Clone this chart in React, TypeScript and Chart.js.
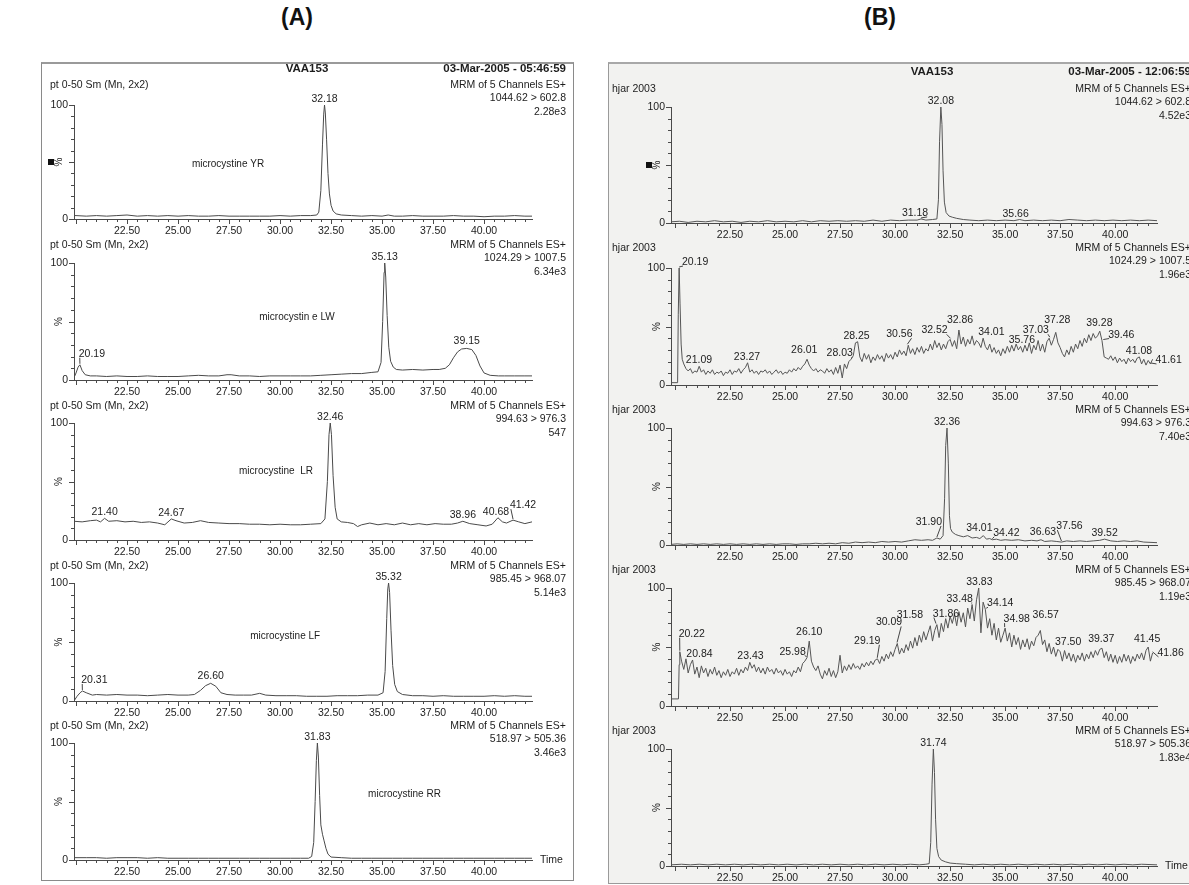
import React, { useEffect, useRef } from "react";
import { Chart, registerables } from "chart.js";

Chart.register(...registerables);

const FONT = "'Liberation Sans', Arial, Helvetica, sans-serif";
const AXIS = "#4a4a4a";
const TEXT = "#1c1c1c";

type Pt = [number, number];
// [retention time, label dx (px), label lift (px), leader line]
type PeakLabel = [number, number, number, boolean?];

// ---------- axis ticks ----------
const X_TICK_VALUES = [22.5, 25, 27.5, 30, 32.5, 35, 37.5, 40];
const X_MINOR_STEP = 0.5;
const X_MAJOR_STEP = 2.5;
const Y_TICK_VALUES = [0, 100];
const Y_MINOR_STEP = 10;

// ---------- panel A series (time, %) ----------
const A1_YR: Pt[] = [
  [19.9, 3], [20.0, 3], [20.5, 2.5], [21, 3], [21.5, 2.5], [22, 3], [22.5, 3.5], [23, 2.5], [23.5, 3],
  [24, 2.5], [24.5, 3], [25, 2.5], [25.5, 3], [26, 2.5], [26.5, 2.5], [27, 3], [27.5, 2.5], [28, 2.5],
  [28.5, 2.5], [29, 2.5], [29.5, 2.5], [30, 3], [30.5, 2.5], [31, 3], [31.5, 3], [31.8, 3.5], [31.9, 6],
  [32.0, 25], [32.08, 65], [32.14, 92], [32.18, 100], [32.22, 93], [32.28, 70], [32.35, 40], [32.42, 22],
  [32.5, 12], [32.6, 7], [32.75, 4.5], [33, 3.5], [33.5, 3], [34, 2.5], [34.5, 3], [35, 2.5], [35.3, 3.5],
  [35.6, 2.5], [36, 2.5], [36.5, 3], [37, 2.5], [37.5, 2.5], [38, 2.5], [38.5, 3], [39, 2.5], [39.5, 2.5],
  [40, 2], [40.5, 2.5], [41, 2.5], [41.5, 3], [42, 2.5], [42.35, 2.5],
];

const A2_LW: Pt[] = [
  [19.9, 2], [20.0, 6], [20.1, 11], [20.19, 13], [20.3, 8], [20.45, 4.5], [20.7, 3.5], [21, 3.5], [21.5, 3],
  [22, 3.5], [22.5, 3], [23, 3], [23.5, 3.5], [24, 3], [24.5, 3], [25, 3], [25.5, 3.5], [26, 4], [26.5, 3.5],
  [27, 3.5], [27.4, 4.5], [27.6, 4.5], [28, 3.5], [28.5, 3.5], [29, 3], [29.5, 3.5], [30, 3.5], [30.5, 3.5],
  [31, 3.5], [31.5, 3.5], [32, 4], [32.5, 4.5], [33, 5], [33.5, 5.5], [34, 5.5], [34.5, 6.5], [34.8, 7],
  [34.95, 15], [35.03, 50], [35.1, 92], [35.13, 100], [35.18, 88], [35.25, 55], [35.33, 28], [35.42, 16],
  [35.55, 11], [35.7, 9], [36, 8.5], [36.5, 9], [37, 8.5], [37.5, 9], [37.8, 9], [38.1, 10], [38.3, 13],
  [38.5, 19], [38.7, 24], [38.9, 26.5], [39.15, 27], [39.4, 26], [39.6, 21], [39.8, 12], [40.0, 6],
  [40.3, 4], [40.7, 3.5], [41, 3.5], [41.5, 3.5], [42, 3.5], [42.35, 3.5],
];

const A3_LR: Pt[] = [
  [19.9, 16], [20.3, 15.5], [20.7, 16.5], [21.0, 17], [21.2, 15.5], [21.4, 18.5], [21.6, 16], [22, 16.5],
  [22.4, 15.5], [22.8, 16], [23.2, 15], [23.6, 15.5], [24.0, 14.5], [24.35, 13], [24.67, 18], [24.9, 16.5],
  [25.3, 14.5], [25.7, 15], [26.1, 16.5], [26.5, 15], [27, 14.5], [27.5, 14], [28, 14], [28.5, 13.5],
  [29, 13.5], [29.5, 13], [30, 13.5], [30.5, 13], [31, 13], [31.5, 13.5], [32.0, 14], [32.2, 18],
  [32.32, 50], [32.4, 90], [32.46, 100], [32.52, 90], [32.6, 55], [32.7, 28], [32.8, 18], [33, 15.5],
  [33.3, 15], [33.6, 14], [33.8, 11.5], [34, 13], [34.4, 14.5], [34.8, 13], [35.2, 14], [35.6, 13],
  [36, 14.5], [36.4, 13], [36.8, 14], [37.2, 13], [37.6, 14], [38.0, 13.5], [38.4, 13.5], [38.7, 14.5],
  [38.96, 16], [39.3, 14], [39.7, 13], [40.1, 12], [40.4, 13.5], [40.68, 19], [40.9, 15.5], [41.1, 14.5],
  [41.42, 17], [41.7, 15.5], [42, 14], [42.35, 15.5],
];

const A4_LF: Pt[] = [
  [19.9, 0], [20.05, 4], [20.2, 7], [20.31, 8.5], [20.5, 7], [20.8, 5], [21, 5.5], [21.5, 5], [22, 5.5],
  [22.5, 5], [23, 5], [23.5, 4.5], [24, 5], [24.5, 5.5], [25, 5], [25.5, 5], [25.8, 5.5], [26.1, 9],
  [26.35, 13], [26.6, 15], [26.85, 12.5], [27.1, 7], [27.4, 5.5], [27.8, 5], [28.2, 5], [28.6, 5],
  [29, 6.5], [29.3, 5], [29.8, 4.5], [30.3, 4.5], [30.8, 4.5], [31.3, 4], [31.8, 4], [32.3, 4], [32.8, 4.5],
  [33.3, 4.5], [33.8, 4.5], [34.3, 5], [34.8, 5], [35.05, 7], [35.15, 25], [35.23, 70], [35.28, 95],
  [35.32, 100], [35.37, 92], [35.44, 60], [35.52, 30], [35.62, 14], [35.75, 8], [36, 5.5], [36.5, 4.5],
  [37, 4.5], [37.5, 4], [38, 4.5], [38.5, 4], [39, 4], [39.5, 4], [40, 4], [40.5, 4.5], [41, 4],
  [41.5, 4.5], [42, 4], [42.35, 4],
];

const A5_RR: Pt[] = [
  [19.9, 2], [20.5, 2], [21, 2], [21.5, 1.5], [22, 2], [22.5, 2], [23, 2], [23.5, 1.5], [24, 2], [24.5, 1.5],
  [25, 1.5], [25.5, 1.5], [26, 1.5], [26.5, 1.5], [27, 1.5], [27.5, 1.5], [28, 1.5], [28.5, 1.5], [29, 1.5],
  [29.5, 1.5], [30, 1.5], [30.5, 1.5], [31, 1.5], [31.4, 1.5], [31.55, 3], [31.65, 15], [31.72, 50],
  [31.78, 85], [31.83, 100], [31.88, 88], [31.94, 55], [32.0, 30], [32.08, 22], [32.15, 17], [32.25, 10],
  [32.35, 5], [32.5, 2.5], [33, 2], [33.5, 1.5], [34, 1.5], [34.5, 1.5], [35, 1.5], [35.5, 1.5], [36, 1.5],
  [36.5, 1.5], [37, 1.5], [37.5, 1.5], [38, 1.5], [38.5, 1.5], [39, 1.5], [39.5, 1.5], [40, 1.5],
  [40.5, 1.5], [41, 1.5], [41.5, 1.5], [42, 1.5], [42.35, 1.5],
];

// ---------- panel B series ----------
const B1_YR: Pt[] = [
  [19.82, 1], [20.2, 1.5], [20.6, 0.5], [21, 1.5], [21.4, 1], [21.8, 2], [22.2, 1], [22.6, 1.5], [23, 0.5],
  [23.4, 1.5], [23.8, 1], [24.2, 2], [24.6, 1], [25, 1.5], [25.4, 1], [25.8, 2], [26.2, 1], [26.6, 2],
  [27, 1.5], [27.4, 2], [27.8, 1.5], [28.2, 2], [28.6, 1.5], [29, 2.5], [29.4, 1.5], [29.8, 2.5], [30.2, 2],
  [30.6, 2.5], [31, 2.5], [31.18, 3.5], [31.4, 2.5], [31.7, 3], [31.9, 3.5], [31.97, 20], [32.02, 70],
  [32.08, 100], [32.13, 85], [32.18, 45], [32.24, 18], [32.32, 9], [32.45, 6], [32.6, 5], [32.8, 4],
  [33.1, 3], [33.4, 2.5], [33.8, 2], [34.2, 2.5], [34.6, 2], [35, 2.5], [35.4, 2], [35.66, 3], [35.9, 2],
  [36.3, 2.5], [36.7, 2], [37.1, 2.5], [37.5, 2], [37.9, 3], [38.3, 2.5], [38.7, 2], [39.1, 2.5], [39.5, 2],
  [39.9, 2.5], [40.3, 2], [40.7, 2.5], [41.1, 2], [41.5, 2.5], [41.9, 2],
];

const B2_SPIKE: Pt[] = [
  [19.82, 2], [20.0, 2], [20.12, 2], [20.15, 60], [20.19, 100], [20.23, 70], [20.28, 35], [20.33, 22],
];
const B2_START = 20.4;
const B2_STEP = 0.1;
const B2_VALUES: number[] = [
  18, 14, 12, 14, 10, 12, 11, 16, 11, 13,
  9, 12, 10, 13, 9, 11, 10, 12, 8, 11,
  10, 13, 9, 12, 11, 14, 10, 13, 15, 19,
  11, 13, 10, 12, 9, 12, 11, 13, 10, 12,
  9, 11, 13, 10, 12, 9, 11, 10, 13, 11,
  14, 12, 15, 13, 16, 18, 22, 17, 14, 12,
  14, 11, 13, 12, 10, 14, 11, 13, 9, 15,
  10, 17, 6, 18, 14, 20, 22, 25, 36, 37,
  24, 20, 27, 22, 26, 19, 24, 21, 26, 22,
  25, 20, 27, 23, 26, 22, 28, 24, 30, 26,
  29, 25, 34, 27, 31, 26, 32, 28, 33, 27,
  31, 29, 35, 30, 38, 32, 36, 30, 35, 31,
  37, 39, 33, 38, 31, 47, 35, 41, 33, 39,
  35, 42, 34, 38, 36, 32, 40, 33, 30, 35,
  28, 32, 27, 30, 25, 31, 27, 33, 28, 34,
  29, 35, 30, 33, 28, 34, 29, 36, 27, 34,
  30, 38, 29, 35, 28, 37, 40, 34, 39, 45,
  36, 32, 27, 24, 30, 26, 33, 28, 35, 31,
  38, 33, 40, 36, 43, 38, 44, 40, 42, 46,
  38, 24, 23, 22, 25, 21, 24, 19, 23, 20,
  22, 18, 23, 20, 22, 19, 23, 24, 18, 22,
  17, 21, 18, 22,
];

const B3_LR: Pt[] = [
  [19.82, 0.5], [20.1, 1], [20.4, 0.5], [20.7, 1], [21.0, 0.5], [21.3, 1], [21.6, 0.5], [21.9, 1],
  [22.2, 0.5], [22.5, 1], [22.8, 0.5], [23.1, 1], [23.4, 0.5], [23.7, 1], [24.0, 0.5], [24.3, 1],
  [24.6, 0.5], [24.9, 1], [25.2, 1], [25.5, 0.5], [25.8, 1], [26.1, 1], [26.4, 1.5], [26.7, 1], [27.0, 1.5],
  [27.3, 1], [27.6, 2], [27.9, 1.5], [28.2, 2.5], [28.5, 2], [28.8, 2.5], [29.1, 2], [29.4, 3], [29.7, 2.5],
  [30.0, 3], [30.3, 2.5], [30.6, 3.5], [30.9, 4.5], [31.2, 4], [31.5, 4.5], [31.7, 4], [31.9, 6], [32.05, 5],
  [32.18, 8], [32.25, 40], [32.3, 85], [32.36, 100], [32.42, 70], [32.47, 25], [32.52, 14], [32.6, 11],
  [32.75, 9], [32.9, 8], [33.1, 7], [33.3, 8], [33.5, 6], [33.7, 6.5], [33.85, 5.5], [34.01, 8], [34.15, 5],
  [34.3, 5.5], [34.42, 4.5], [34.6, 5], [34.8, 4], [35.0, 4.5], [35.3, 4], [35.6, 4.5], [35.9, 3.5],
  [36.2, 4], [36.45, 3.5], [36.63, 4.5], [36.8, 3], [37.1, 3.5], [37.35, 3], [37.56, 2.5], [37.8, 3.5],
  [38.1, 3], [38.4, 3.5], [38.7, 3], [39.0, 3.5], [39.3, 4], [39.52, 5], [39.8, 3.5], [40.1, 3], [40.4, 3.5],
  [40.7, 3], [41.0, 3.5], [41.3, 2.5], [41.9, 2],
];

const B4_SPIKE: Pt[] = [[19.82, 6], [20.0, 6], [20.16, 6], [20.19, 35], [20.22, 46]];
const B4_START = 20.3;
const B4_STEP = 0.1;
const B4_VALUES: number[] = [
  38, 31, 40, 28, 35, 39, 27, 33, 24, 34,
  28, 32, 25, 31, 27, 33, 26, 30, 24, 29,
  26, 31, 25, 29, 27, 32, 26, 31, 28, 33,
  30, 37, 32, 35, 29, 33, 28, 32, 27, 33,
  29, 31, 27, 32, 28, 30, 26, 31, 27, 29,
  25, 30, 28, 33, 29, 36, 38, 41, 55, 38,
  33, 30, 34, 27, 23, 30, 26, 32, 25, 30,
  24, 29, 43, 28, 34, 30, 35, 31, 36, 32,
  34, 31, 36, 33, 37, 34, 38, 35, 39, 40,
  36, 42, 38, 44, 40, 46, 42, 48, 53, 44,
  49, 45, 52, 47, 55, 49, 58, 51, 60, 54,
  63, 56, 62, 68, 55, 64, 69, 58, 70, 63,
  74, 66, 76, 70, 78, 68, 80, 71, 79, 67,
  83, 74, 86, 72, 90, 100, 62, 88, 82, 66,
  74, 60, 70, 56, 66, 54, 60, 66, 55, 62,
  50, 60, 52, 58, 48, 56, 50, 57, 48, 55,
  51, 58, 60, 64, 52, 56, 46, 53, 44, 50,
  42, 48, 46, 38, 47, 40, 45, 38, 44, 37,
  43, 39, 45, 38, 44, 40, 46, 41, 47, 43,
  48, 49, 41, 46, 38, 44, 37, 43, 36, 42,
  37, 44, 38, 43, 36, 42, 38, 44, 40, 45,
  39, 47, 50, 38, 45,
];

const B5_RR: Pt[] = [
  [19.82, 1], [20.3, 1.5], [20.7, 1], [21.1, 1.5], [21.5, 1], [21.9, 1.5], [22.3, 1], [22.7, 1.5], [23.1, 1],
  [23.5, 1.5], [23.9, 1], [24.3, 1.5], [24.7, 1], [25.1, 1.5], [25.5, 1], [25.9, 1.5], [26.3, 1], [26.7, 1.5],
  [27.1, 1], [27.5, 1.5], [27.9, 1], [28.3, 1.5], [28.7, 1], [29.1, 1.5], [29.5, 1], [29.9, 1.5], [30.3, 1],
  [30.7, 1.5], [31.1, 1], [31.4, 1.5], [31.55, 2], [31.62, 20], [31.68, 70], [31.74, 100], [31.79, 80],
  [31.84, 40], [31.9, 15], [31.98, 8], [32.1, 5], [32.3, 3.5], [32.5, 2.5], [32.8, 2], [33.2, 1.5], [33.6, 1],
  [34, 1.5], [34.4, 1], [34.8, 1.5], [35.2, 1], [35.6, 1.5], [36, 1], [36.4, 1.5], [36.8, 1], [37.2, 1.5],
  [37.6, 1], [38, 1.5], [38.4, 1], [38.8, 1.5], [39.2, 1], [39.6, 1.5], [40, 1], [40.4, 1.5], [40.8, 1],
  [41.2, 1.5], [41.9, 1],
];

function sampled(start: number, step: number, values: number[]): Pt[] {
  return values.map((v, i) => [Math.round((start + i * step) * 100) / 100, v] as Pt);
}

const B2_NOISE: Pt[] = [...B2_SPIKE, ...sampled(B2_START, B2_STEP, B2_VALUES)];
const B4_NOISE: Pt[] = [...B4_SPIKE, ...sampled(B4_START, B4_STEP, B4_VALUES)];

// ---------- peak labels ----------
const A1_PEAKS: PeakLabel[] = [[32.18, 0, 0]];
const A2_PEAKS: PeakLabel[] = [[35.13, 0, 0], [39.15, 0, 1], [20.19, 12, 5, true]];
const A3_PEAKS: PeakLabel[] = [[32.46, 0, 0], [21.4, 0, 0], [24.67, 0, 0], [38.96, 0, 0], [40.68, -2, 0], [41.42, 10, 9, true]];
const A4_PEAKS: PeakLabel[] = [[35.32, 0, 0], [26.6, 0, 1], [20.31, 12, 5, true]];
const A5_PEAKS: PeakLabel[] = [[31.83, 0, 0]];

const B1_PEAKS: PeakLabel[] = [[32.08, 0, 0], [31.18, -6, 0, true], [35.66, -4, 0]];
const B2_PEAKS: PeakLabel[] = [
  [20.19, 16, 0, true], [21.09, 0, 0], [23.27, 0, 0], [26.01, -3, 3], [28.03, -12, 0, true], [28.25, 0, 0],
  [30.56, -8, 5, true], [32.52, -16, 3, true], [32.86, 2, 4], [34.01, 8, 0], [35.76, 0, 0], [37.03, -14, 2, true],
  [37.28, 2, 6], [39.28, 0, 2], [39.46, 18, 0, true], [41.08, 0, 0], [41.61, 18, -2, true],
];
const B3_PEAKS: PeakLabel[] = [
  [32.36, 0, 0], [31.9, -8, 10, true], [34.01, -4, 2], [34.42, 14, 1, true], [36.63, 2, 2], [37.56, 8, 10, true], [39.52, 0, 0],
];
const B4_PEAKS: PeakLabel[] = [
  [20.22, 12, 12, true], [20.84, 6, 0], [23.43, 0, 0], [25.98, -14, 0, true], [26.1, 0, 3], [29.19, -10, 12, true],
  [30.09, -8, 15, true], [31.58, -20, 5], [31.86, 10, 5, true], [33.48, -12, 0, true], [33.83, 0, 0],
  [34.14, 14, 0, true], [34.98, 12, 3, true], [36.57, 6, 9], [37.5, 8, 4], [39.37, 0, 3], [41.45, 0, 2],
  [41.86, 18, -6, true],
];
const B5_PEAKS: PeakLabel[] = [[31.74, 0, 0]];

// ---------- layout ----------
interface PanelSpec {
  left: number; width: number; axisX: number; axisEnd: number; xMin: number; xMax: number;
  textLeft: number; textRight: number; titleX: number; titleY: number; date: string; pctX: number; line: string;
}
interface RowSpec {
  panel: PanelSpec; data: Pt[]; peaks: PeakLabel[]; leftText: string; mz: string; intensity: string;
  name?: string; nameAt?: Pt; top: number; y100: number; y0: number; bottom: number; headerY: number;
  first?: boolean; last?: boolean;
}

const PANEL_A: PanelSpec = {
  left: 42, width: 531, axisX: 74, axisEnd: 532, xMin: 19.9, xMax: 42.35, textLeft: 50, textRight: 566,
  titleX: 307, titleY: 69, date: "03-Mar-2005 - 05:46:59", pctX: 59, line: "#4a4a4a",
};
const PANEL_B: PanelSpec = {
  left: 609, width: 580, axisX: 671, axisEnd: 1157, xMin: 19.82, xMax: 41.9, textLeft: 612, textRight: 1191,
  titleX: 932, titleY: 72, date: "03-Mar-2005 - 12:06:59", pctX: 657, line: "#555555",
};

const PT = "pt 0-50 Sm (Mn, 2x2)";
const HJ = "hjar 2003";

const ROWS: RowSpec[] = [
  { panel: PANEL_A, data: A1_YR, peaks: A1_PEAKS, leftText: PT, mz: "1044.62 > 602.8", intensity: "2.28e3", name: "microcystine YR", nameAt: [27.45, 48], top: 63, y100: 105, y0: 219, bottom: 238, headerY: 85, first: true },
  { panel: PANEL_A, data: A2_LW, peaks: A2_PEAKS, leftText: PT, mz: "1024.29 > 1007.5", intensity: "6.34e3", name: "microcystin e LW", nameAt: [30.83, 54], top: 238, y100: 263, y0: 380, bottom: 398, headerY: 245 },
  { panel: PANEL_A, data: A3_LR, peaks: A3_PEAKS, leftText: PT, mz: "994.63 > 976.3", intensity: "547", name: "microcystine  LR", nameAt: [29.8, 59], top: 398, y100: 423, y0: 540, bottom: 558, headerY: 406 },
  { panel: PANEL_A, data: A4_LF, peaks: A4_PEAKS, leftText: PT, mz: "985.45 > 968.07", intensity: "5.14e3", name: "microcystine LF", nameAt: [30.25, 55], top: 558, y100: 583, y0: 701, bottom: 719, headerY: 566 },
  { panel: PANEL_A, data: A5_RR, peaks: A5_PEAKS, leftText: PT, mz: "518.97 > 505.36", intensity: "3.46e3", name: "microcystine RR", nameAt: [36.1, 56], top: 719, y100: 743, y0: 860, bottom: 879, headerY: 726, last: true },
  { panel: PANEL_B, data: B1_YR, peaks: B1_PEAKS, leftText: HJ, mz: "1044.62 > 602.8", intensity: "4.52e3", top: 63, y100: 107, y0: 223, bottom: 241, headerY: 89, first: true },
  { panel: PANEL_B, data: B2_NOISE, peaks: B2_PEAKS, leftText: HJ, mz: "1024.29 > 1007.5", intensity: "1.96e3", top: 241, y100: 268, y0: 385, bottom: 403, headerY: 248 },
  { panel: PANEL_B, data: B3_LR, peaks: B3_PEAKS, leftText: HJ, mz: "994.63 > 976.3", intensity: "7.40e3", top: 403, y100: 428, y0: 545, bottom: 563, headerY: 410 },
  { panel: PANEL_B, data: B4_NOISE, peaks: B4_PEAKS, leftText: HJ, mz: "985.45 > 968.07", intensity: "1.19e3", top: 563, y100: 588, y0: 706, bottom: 724, headerY: 570 },
  { panel: PANEL_B, data: B5_RR, peaks: B5_PEAKS, leftText: HJ, mz: "518.97 > 505.36", intensity: "1.83e4", top: 724, y100: 749, y0: 866, bottom: 884, headerY: 731, last: true },
];

function anchorOf(data: Pt[], t: number): Pt {
  const last = data[data.length - 1];
  if (t >= last[0]) return [last[0], last[1]];
  let best = -1;
  for (const [x, y] of data) if (Math.abs(x - t) <= 0.065 && y > best) best = y;
  if (best >= 0) return [t, best];
  for (let i = 1; i < data.length; i++) {
    const [x0, y0] = data[i - 1];
    const [x1, y1] = data[i];
    if (t >= x0 && t <= x1) return [t, y0 + ((y1 - y0) * (t - x0)) / (x1 - x0)];
  }
  return [t, data[0][1]];
}

function overlay(row: RowSpec) {
  return {
    id: "overlay",
    afterDraw(chart: any) {
      const ctx: CanvasRenderingContext2D = chart.ctx;
      const xs = chart.scales.x;
      const ys = chart.scales.y;
      const a = chart.chartArea;
      const p = row.panel;
      const ox = p.left;
      const oy = row.top;
      ctx.save();
      // tick marks
      ctx.strokeStyle = AXIS;
      ctx.lineWidth = 1;
      ctx.beginPath();
      for (let i = 0; 20 + i * X_MINOR_STEP <= p.xMax + 1e-9; i++) {
        const v = 20 + i * X_MINOR_STEP;
        const px = Math.round(xs.getPixelForValue(v)) + 0.5;
        const r = v / X_MAJOR_STEP;
        const major = Math.abs(r - Math.round(r)) < 1e-6;
        ctx.moveTo(px, a.bottom);
        ctx.lineTo(px, a.bottom + (major ? 5 : 3));
      }
      for (let v = 0; v <= 100; v += Y_MINOR_STEP) {
        const py = Math.round(ys.getPixelForValue(v)) + 0.5;
        const major = v % 50 === 0;
        ctx.moveTo(a.left - (major ? 5 : 3), py);
        ctx.lineTo(a.left, py);
      }
      ctx.stroke();

      // header
      ctx.fillStyle = TEXT;
      ctx.textBaseline = "middle";
      if (row.first) {
        ctx.font = `bold 11.5px ${FONT}`;
        ctx.textAlign = "center";
        ctx.fillText("VAA153", p.titleX - ox, p.titleY - oy);
        ctx.textAlign = "right";
        ctx.fillText(p.date, p.textRight - ox, p.titleY - oy);
      }
      ctx.font = `10.5px ${FONT}`;
      ctx.textAlign = "left";
      ctx.fillText(row.leftText, p.textLeft - ox, row.headerY - oy);
      ctx.textAlign = "right";
      ctx.fillText("MRM of 5 Channels ES+", p.textRight - ox, row.headerY - oy);
      ctx.fillText(row.mz, p.textRight - ox, row.headerY - oy + 13.5);
      ctx.fillText(row.intensity, p.textRight - ox, row.headerY - oy + 27);

      // % label
      const pm = ys.getPixelForValue(50);
      ctx.save();
      ctx.translate(p.pctX - ox, pm);
      ctx.rotate(-Math.PI / 2);
      ctx.textAlign = "center";
      ctx.font = `10px ${FONT}`;
      ctx.fillText("%", 0, 0);
      ctx.restore();
      if (row.first) {
        ctx.fillStyle = "#111";
        ctx.fillRect(p.pctX - ox - 11, pm - 3, 6, 6);
        ctx.fillStyle = TEXT;
      }

      // compound name
      if (row.name && row.nameAt) {
        ctx.font = `10px ${FONT}`;
        ctx.textAlign = "center";
        ctx.fillText(row.name, xs.getPixelForValue(row.nameAt[0]), ys.getPixelForValue(row.nameAt[1]));
      }

      if (row.last) {
        ctx.font = `10.5px ${FONT}`;
        ctx.textAlign = "left";
        ctx.fillText("Time", a.right + 8, a.bottom);
      }

      // peak labels
      ctx.font = `10.5px ${FONT}`;
      ctx.textAlign = "center";
      ctx.textBaseline = "alphabetic";
      ctx.strokeStyle = "#444";
      for (const [t, dx, lift, leader] of row.peaks) {
        const [at, av] = anchorOf(row.data, t);
        const px = xs.getPixelForValue(at);
        const py = ys.getPixelForValue(av);
        const txt = t.toFixed(2);
        const lx = px + dx;
        const ly = py - 3 - lift;
        ctx.fillText(txt, lx, ly);
        if (leader) {
          const w = ctx.measureText(txt).width;
          let sx = lx;
          if (dx > 3) sx = lx - w / 2 + 1;
          else if (dx < -3) sx = lx + w / 2 - 1;
          ctx.beginPath();
          ctx.moveTo(sx, ly + 1);
          ctx.lineTo(px, py - 1);
          ctx.stroke();
        }
      }
      ctx.restore();
    },
  };
}

function Trace({ row }: { row: RowSpec }) {
  const ref = useRef<HTMLCanvasElement>(null);
  const p = row.panel;
  const W = p.width;
  const H = row.bottom - row.top;
  useEffect(() => {
    const yAxisW = p.axisX - p.left;
    const padRight = p.left + p.width - p.axisEnd;
    const padTop = row.y100 - row.top;
    const xAxisH = row.bottom - row.y0;
    const tickFont = { family: FONT, size: 10.5 };
    const chart = new Chart(ref.current as HTMLCanvasElement, {
      type: "line",
      data: {
        datasets: [
          {
            data: row.data.map(([x, y]) => ({ x, y })),
            borderColor: p.line,
            borderWidth: 1,
            pointRadius: 0,
            tension: 0,
            fill: false,
          },
        ],
      },
      options: {
        animation: false,
        responsive: false,
        devicePixelRatio: 1,
        events: [],
        layout: { padding: { left: 0, right: padRight, top: padTop, bottom: 0 } },
        plugins: { legend: { display: false }, tooltip: { enabled: false }, title: { display: false } },
        scales: {
          x: {
            type: "linear",
            min: p.xMin,
            max: p.xMax,
            grid: { display: false, drawTicks: false },
            border: { display: true, color: AXIS, width: 1 },
            afterBuildTicks: (s: any) => {
              s.ticks = X_TICK_VALUES.map((v) => ({ value: v }));
            },
            afterFit: (s: any) => {
              s.height = xAxisH;
            },
            ticks: {
              padding: 6,
              autoSkip: false,
              maxRotation: 0,
              font: tickFont,
              color: TEXT,
              callback: (v: any) => Number(v).toFixed(2),
            },
          },
          y: {
            type: "linear",
            min: 0,
            max: 100,
            grid: { display: false, drawTicks: false },
            border: { display: true, color: AXIS, width: 1 },
            afterBuildTicks: (s: any) => {
              s.ticks = Y_TICK_VALUES.map((v) => ({ value: v }));
            },
            afterFit: (s: any) => {
              s.width = yAxisW;
            },
            ticks: { padding: 6, font: tickFont, color: TEXT, callback: (v: any) => String(v) },
          },
        },
      } as any,
      plugins: [overlay(row)],
    });
    return () => chart.destroy();
  }, [row]);
  return (
    <canvas
      ref={ref}
      width={W}
      height={H}
      style={{ position: "absolute", left: p.left, top: row.top, width: W, height: H }}
    />
  );
}

export default function App() {
  return (
    <div
      style={{
        position: "absolute",
        left: 0,
        top: 0,
        width: 1189,
        height: 885,
        overflow: "hidden",
        background: "#ffffff",
        fontFamily: FONT,
      }}
    >
      <div style={{ position: "absolute", left: 0, top: 4, width: 594, textAlign: "center", font: `bold 23px ${FONT}`, lineHeight: "26px", color: "#111" }}>
        (A)
      </div>
      <div style={{ position: "absolute", left: 700, top: 4, width: 360, textAlign: "center", font: `bold 23px ${FONT}`, lineHeight: "26px", color: "#111" }}>
        (B)
      </div>
      <div style={{ position: "absolute", left: 41, top: 62, width: 531, height: 816, border: "1px solid #8a8a8a", borderTop: "2px solid #9a9a9a", background: "#fff" }} />
      <div style={{ position: "absolute", left: 608, top: 62, width: 600, height: 819, border: "1px solid #9a9a9a", borderTop: "2px solid #a8a8a8", background: "#f2f2f0" }} />
      {ROWS.map((r, i) => (
        <Trace key={i} row={r} />
      ))}
    </div>
  );
}
